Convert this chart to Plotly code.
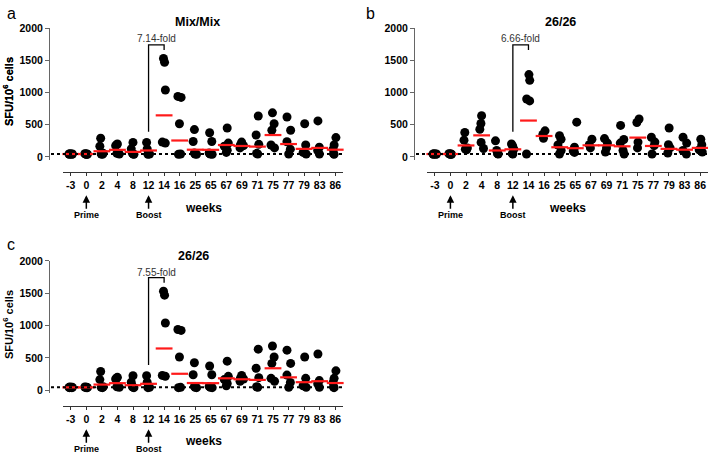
import plotly.graph_objects as go

W, H = 708, 455

weeks = ["-3", "0", "2", "4", "8", "12", "14", "16", "25", "65", "67", "69", "71", "75", "77", "79", "83", "86"]

# Panel a / c values (SFU per 10^6 cells), one list per week
mix_values = [
    [40, 45, 50, 40, 45],
    [40, 45, 50, 40, 45],
    [290, 165, 55, 45, 40],
    [200, 175, 190, 55, 45],
    [225, 125, 55, 45, 40],
    [225, 125, 55, 45, 40],
    [1530, 1470, 1040, 230, 215],
    [940, 925, 515, 45, 40],
    [425, 240, 60, 45, 40],
    [375, 240, 60, 45, 40],
    [450, 215, 165, 105, 70],
    [230, 185, 140, 175],
    [635, 340, 195, 55, 45],
    [685, 515, 415, 185, 140],
    [620, 415, 235, 120, 45],
    [515, 185, 70, 45],
    [560, 150, 100, 45],
    [300, 185, 120, 50, 40],
]
mix_means = [45, 45, 88, 110, 78, 100, 646, 255, 112, 110, 185, 170, 160, 340, 200, 125, 140, 112]

# Panel b values
b_values = [
    [40, 45, 50, 40, 45],
    [40, 45, 50, 40, 45],
    [380, 260, 140, 120, 110],
    [640, 520, 430, 225, 130],
    [250, 100, 50, 45],
    [200, 170, 120, 50, 45],
    [1280, 1190, 900, 870, 45],
    [405, 350, 290],
    [330, 275, 185, 100, 45],
    [540, 150, 90, 70],
    [275, 190, 140],
    [285, 215, 140, 75],
    [490, 270, 215, 100, 45],
    [590, 535, 230, 140],
    [305, 230, 175, 45],
    [450, 190, 140, 60],
    [305, 215, 100, 45],
    [275, 190, 110, 75],
]
b_means = [45, 45, 178, 335, 100, 118, 565, 325, 150, 135, 180, 180, 165, 300, 170, 125, 112, 140]

yticks = [0, 500, 1000, 1500, 2000]
lod = 45
panel_letters = ["a", "b", "c"]
titles = ["Mix/Mix", "26/26", "26/26"]
folds = ["7.14-fold", "6.66-fold", "7.55-fold"]
bracket = dict(bottom=390, top=1740, right=1660)

FONT = "Liberation Sans, Arial, sans-serif"


def py(p):
    return 1 - p / H


def px(p):
    return p / W


# panel geometry (pixels)
panels = [
    dict(vals=mix_values, means=mix_means, yaxis_x=49, xdom=(63, 343), ytop=22.7, ybot=156.9, xline=169.5,
         title=(197, 16), letter=(5, 8), fold_y=33, arrow_head=193, weeks=(203, 206)),
    dict(vals=b_values, means=b_means, yaxis_x=414, xdom=(427, 708), ytop=22.7, ybot=156.9, xline=169.5,
         title=(560, 16), letter=(364, 8), fold_y=33, arrow_head=193, weeks=(567, 206)),
    dict(vals=mix_values, means=mix_means, yaxis_x=49, xdom=(63, 343), ytop=260, ybot=395, xline=408,
         title=(193, 255), letter=(5, 243), fold_y=272, arrow_head=431.7, weeks=(203, 444)),
]

fig = go.Figure()
layout = dict(width=W, height=H, margin=dict(l=0, r=0, t=0, b=0),
              plot_bgcolor="white", paper_bgcolor="white", showlegend=False,
              font=dict(family=FONT, color="black"))
annotations = []
shapes = []


def ann(**kw):
    kw.setdefault("xanchor", "center")
    kw.setdefault("yanchor", "middle")
    annotations.append(kw)


for i, p in enumerate(panels):
    sfx = "" if i == 0 else str(i + 1)
    xa, ya = "x" + sfx, "y" + sfx
    xs, ys = [], []
    for w, vals in zip(weeks, p["vals"]):
        xs += [w] * len(vals)
        ys += vals
    fig.add_trace(go.Box(x=xs, y=ys, xaxis=xa, yaxis=ya, boxpoints="all", jitter=0.55, pointpos=0,
                         fillcolor="rgba(0,0,0,0)", line=dict(color="rgba(0,0,0,0)", width=0),
                         marker=dict(color="black", size=9), hoveron="points"))
    fig.add_trace(go.Scatter(x=weeks, y=p["means"], xaxis=xa, yaxis=ya, mode="markers",
                             marker=dict(symbol="line-ew", size=12, line=dict(width=2.2, color="#ff1a1a")),
                             cliponaxis=False))

    layout["xaxis" + sfx] = dict(type="category", categoryorder="array", categoryarray=weeks,
                                 range=[-0.5, len(weeks) - 0.5],
                                 domain=[px(p["xdom"][0]), min(1, px(p["xdom"][1]))],
                                 anchor="free", position=py(p["xline"]),
                                 showline=True, linecolor="#333", linewidth=1, ticks="outside", ticklen=3,
                                 tickcolor="#333", showgrid=False, zeroline=False,
                                 tickfont=dict(size=10.5, family=FONT, weight="bold", color="black"))
    layout["yaxis" + sfx] = dict(range=[-45, 2000], domain=[py(p["ybot"]), py(p["ytop"])],
                                 anchor="free", position=px(p["yaxis_x"]),
                                 showline=True, linecolor="#666", linewidth=1, ticks="outside", ticklen=4,
                                 tickcolor="#666", tickvals=yticks, showgrid=False, zeroline=False,
                                 tickfont=dict(size=10.5, family=FONT, weight="bold", color="black"))

    # limit of detection dotted line
    shapes.append(dict(type="line", xref="paper", yref=ya, x0=px(p["yaxis_x"] + 2), x1=min(1, px(p["xdom"][1])),
                       y0=lod, y1=lod, line=dict(color="black", width=2, dash="dot")))
    # fold bracket from week 12 to week 14
    i12, i14 = weeks.index("12"), weeks.index("14")
    shapes.append(dict(type="path", xref=xa, yref=ya,
                       path=f"M {i12},{bracket['bottom']} L {i12},{bracket['top']} L {i14},{bracket['top']} L {i14},{bracket['right']}",
                       line=dict(color="black", width=1.3)))
    ann(x=(i12 + i14) / 2, y=py(p["fold_y"]), xref=xa, yref="paper", text=folds[i],
        showarrow=False, font=dict(size=10, color="#333", family=FONT))
    # titles and letters
    ann(x=px(p["title"][0]), y=py(p["title"][1]), xref="paper", yref="paper",
        text=titles[i], showarrow=False,
        font=dict(size=12.5, family=FONT, weight="bold", color="black"))
    ann(x=px(p["letter"][0]), y=py(p["letter"][1]), xref="paper", yref="paper",
        text=panel_letters[i], showarrow=False, xanchor="left",
        font=dict(size=16, family=FONT, color="black"))
    # y-axis title
    ann(x=px(8), y=py((p["ytop"] + p["ybot"]) / 2 - 2), xref="paper", yref="paper",
        text="SFU/10<sup>6</sup> cells", textangle=-90, showarrow=False,
        font=dict(size=11, family=FONT, weight="bold", color="black"))
    # weeks label
    ann(x=px(p["weeks"][0]), y=py(p["weeks"][1]), xref="paper", yref="paper",
        text="weeks", showarrow=False,
        font=dict(size=12, family=FONT, weight="bold", color="black"))
    # Prime / Boost arrows
    for label, wk in (("Prime", "0"), ("Boost", "12")):
        ann(x=weeks.index(wk), y=py(p["arrow_head"]), xref=xa, yref="paper",
            text=label, showarrow=True, ax=0, ay=20, arrowhead=2, arrowsize=1,
            arrowwidth=1.5, arrowcolor="black", standoff=0,
            font=dict(size=9, family=FONT, weight="bold", color="black"))

layout["annotations"] = annotations
layout["shapes"] = shapes
fig.update_layout(**layout)
fig.write_html("out.html", config={"displayModeBar": False},
               post_script="document.body.style.margin='0';document.body.style.overflow='hidden';")
